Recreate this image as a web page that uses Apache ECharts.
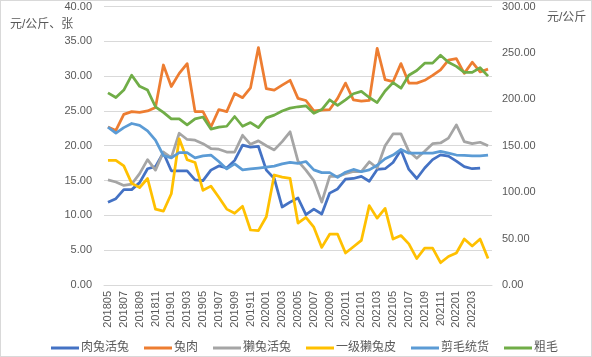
<!DOCTYPE html>
<html>
<head>
<meta charset="utf-8">
<script src="https://cdn.jsdelivr.net/npm/echarts@6/dist/echarts.min.js"></script>
<style>
html,body{margin:0;padding:0;background:#fff;}
#c{width:592px;height:357px;box-sizing:border-box;border:1px solid #d9d9d9;}
</style>
</head>
<body>
<div id="c"></div>
<script>
const categories = ['201805','201806','201807','201808','201809','201810','201811','201812',
'201901','201902','201903','201904','201905','201906','201907','201908','201909','201910','201911','201912',
'202001','202002','202003','202004','202005','202006','202007','202008','202009','202010','202011','202012',
'202101','202102','202103','202104','202105','202106','202107','202108','202109','202110','202111','202112',
'202201','202202','202203','202204','202205'];

const leftTicks = [0,5,10,15,20,25,30,35,40];
const rightTicks = [0,50,100,150,200,250,300];

const meatRabbitLive = [11.9,12.4,13.7,13.7,14.7,16.7,17.0,19.0,16.4,16.4,16.4,15.1,15.0,16.5,17.1,16.8,17.9,20.1,19.8,19.9,16.5,15.3,11.2,11.9,12.5,10.1,10.9,10.2,13.2,13.8,15.2,15.3,15.6,14.9,16.6,16.7,17.6,19.4,16.6,15.3,16.8,18.0,18.7,18.5,17.8,17.0,16.7,16.8,null];
const rabbitMeat = [22.7,22.2,24.5,24.9,24.8,25.0,25.5,31.6,28.5,30.4,31.8,24.9,24.9,22.7,25.2,24.9,27.5,26.9,28.3,34.1,28.2,28.0,28.7,29.4,26.8,26.5,25.0,25.1,25.2,26.8,29.0,26.6,26.4,26.5,34.0,29.5,29.2,31.8,29.0,29.0,29.4,30.1,30.9,32.3,32.5,30.4,32.0,30.6,31.0];
const rexRabbitLive = [15.1,14.8,14.3,14.5,16.0,18.0,16.5,19.1,18.3,21.8,20.9,20.8,20.3,19.6,19.5,19.1,19.1,21.5,20.2,20.7,20.0,19.4,20.6,22.0,17.8,16.5,15.0,11.9,15.6,15.6,16.0,16.3,16.3,17.7,16.8,20.0,21.7,21.7,19.2,18.2,19.2,20.3,20.4,21.1,23.0,20.6,20.3,20.5,20.0];
const rexPeltGrade1 = [17.9,17.9,17.1,14.6,14.0,15.3,10.9,10.6,13.1,21.0,18.0,17.6,13.6,14.2,12.6,10.9,10.3,11.3,7.9,7.8,9.8,15.8,15.5,15.3,8.9,9.7,8.3,5.4,7.3,7.3,4.6,5.5,6.4,11.4,9.6,11.0,6.6,7.1,5.9,3.8,5.3,5.3,3.2,4.1,4.6,6.6,5.6,6.6,3.8];
const shearedWool = [170,163.5,169.5,174,172,166,156,139.5,137,142.5,142.5,137,139,140,133,125,130.5,124,125,126,127,128,130.5,132,131,133,124,121,121,116,121.5,124.5,122,124,129,136,140,146,142,142,142,142,144,142,140,139.5,139,139,140];
const coarseWool = [207,202,210,226,214,210,192,186,179,179,172.5,179,181,168,170,171,181.5,171,175,169.5,180,183,187.5,190.5,192,193,185,189,199.5,193.5,199.5,206,208.5,202,196.5,209,218,212,226,231,239,239,247.5,240,235.5,229,229,234,225];

const seriesNames = ['肉兔活兔','兔肉','獭兔活兔','一级獭兔皮','剪毛统货','粗毛'];
const colors = ['#4472C4','#ED7D31','#A5A5A5','#FFC000','#5B9BD5','#70AD47'];
const seriesData = [meatRabbitLive, rabbitMeat, rexRabbitLive, rexPeltGrade1, shearedWool, coarseWool];
const seriesAxis = [0,0,0,0,1,1];

const txt = '#595959';
const fontFam = '"Liberation Sans","Noto Sans CJK SC",sans-serif';

const chart = echarts.init(document.getElementById('c'));
chart.setOption({
  animation: false,
  color: colors,
  textStyle: {fontFamily: fontFam},
  grid: {left: 103, right: 99, top: 5, bottom: 71},
  graphic: [
    {type:'text', left: 9, top: 18, style:{text:'元/公斤、张', fill: txt, font: '12px ' + fontFam}},
    {type:'text', left: 546, top: 11, style:{text:'元/公斤', fill: txt, font: '12px ' + fontFam}}
  ],
  legend: {
    top: 336, left: 45,
    itemWidth: 28, itemHeight: 3, itemGap: 15, icon: 'rect',
    textStyle: {color: txt, fontSize: 12, fontFamily: fontFam, padding:[0,0,0,-3]},
    data: seriesNames
  },
  xAxis: {
    type: 'category', data: categories, boundaryGap: true,
    axisLine: {lineStyle: {color: '#d9d9d9'}},
    axisTick: {show: false},
    axisLabel: {
      rotate: 90, color: txt, fontSize: 11, margin: 6,
      interval: function(i){ return i % 2 === 0 && i < 48; }
    }
  },
  yAxis: [
    {
      type: 'value', min: leftTicks[0], max: leftTicks[leftTicks.length-1], interval: 5,
      axisLine: {show: false}, axisTick: {show: false},
      axisLabel: {color: txt, fontSize: 11, margin: 12, formatter: v => v.toFixed(2)},
      splitLine: {lineStyle: {color: '#d9d9d9'}}
    },
    {
      type: 'value', min: rightTicks[0], max: rightTicks[rightTicks.length-1], interval: 50,
      axisLine: {show: false}, axisTick: {show: false},
      axisLabel: {color: txt, fontSize: 11, margin: 10, formatter: v => v.toFixed(2)},
      splitLine: {show: false}
    }
  ],
  series: seriesNames.map((n, k) => ({
    name: n, type: 'line', yAxisIndex: seriesAxis[k], data: seriesData[k],
    showSymbol: false, symbol: 'none',
    lineStyle: {width: 2.75, color: colors[k], join: 'round'},
    itemStyle: {color: colors[k]}
  }))
});
</script>
</body>
</html>
